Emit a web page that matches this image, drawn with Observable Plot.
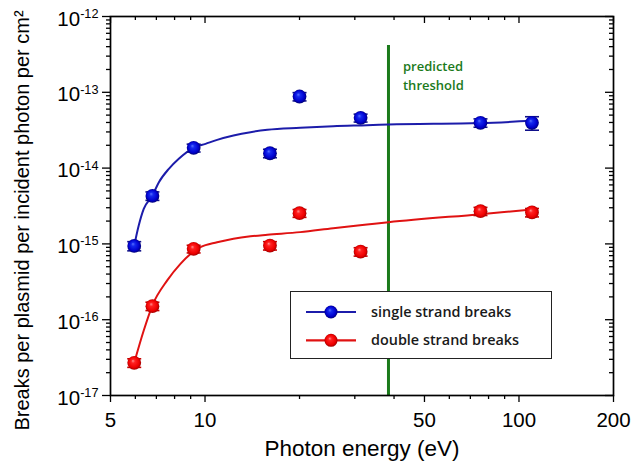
<!DOCTYPE html>
<html>
<head>
<meta charset="utf-8">
<script src="https://cdn.jsdelivr.net/npm/d3@7"></script>
<script src="https://cdn.jsdelivr.net/npm/@observablehq/plot@0.6"></script>
<style>
  html, body { margin: 0; padding: 0; background: #ffffff; }
  #chart { width: 631px; height: 470px; }
</style>
</head>
<body>
<div id="chart"></div>
<script>
// ---- Data ----
const energy = [5.95, 6.8, 9.2, 16.1, 20.0, 31.3, 75.4, 110];
const ssb    = [9.4e-16, 4.3e-15, 1.85e-14, 1.57e-14, 8.8e-14, 4.6e-14, 3.96e-14, 3.96e-14];
const ssbErr = [1.3e-16, 5.5e-16, 2.2e-15, 2.0e-15, 1.1e-14, 5.5e-15, 5.0e-15, 8.0e-15];
const dsb    = [2.7e-17, 1.51e-16, 8.6e-16, 9.5e-16, 2.54e-15, 7.9e-16, 2.7e-15, 2.6e-15];
const dsbErr = [3.5e-18, 1.9e-17, 1.0e-16, 1.2e-16, 3.0e-16, 1.0e-16, 3.3e-16, 3.3e-16];

const ssbFitEnergy = [5.95, 6.15, 6.38, 6.79, 7.13, 7.67, 8.25, 9.17, 10.04, 10.93, 12.32, 13.96, 15.8, 20.1, 25.6, 32.8, 38.4, 75.4, 110];
const ssbFit       = [9.5e-16, 1.75e-15, 2.9e-15, 4.3e-15, 6.52e-15, 9.79e-15, 1.33e-14, 1.84e-14, 2.09e-14, 2.36e-14, 2.69e-14, 2.98e-14, 3.2e-14, 3.4e-14, 3.57e-14, 3.68e-14, 3.76e-14, 3.93e-14, 4.2e-14];
const dsbFitEnergy = [5.95, 6.38, 6.8, 7.58, 8.35, 9.15, 9.67, 10.93, 12.32, 13.96, 15.8, 20.1, 25.6, 32.8, 38.4, 75.4, 110];
const dsbFit       = [2.7e-17, 7.2e-17, 1.55e-16, 3.3e-16, 5.46e-16, 7.8e-16, 9.04e-16, 1.05e-15, 1.17e-15, 1.26e-15, 1.32e-15, 1.43e-15, 1.61e-15, 1.80e-15, 1.93e-15, 2.47e-15, 2.84e-15];

const thresholdEnergy = 38.4;
const thresholdTop = 4.14e-13;
const thresholdLabel = "predicted\nthreshold";

const xTicks = [5, 10, 50, 100, 200];
const xTickLabels = ["5", "10", "50", "100", "200"];
const xMinorTicks = [6, 7, 8, 9, 20, 30, 40, 60, 70, 80, 90];
const yTicks = [1e-17, 1e-16, 1e-15, 1e-14, 1e-13, 1e-12];
const yTickExponents = ["-17", "-16", "-15", "-14", "-13", "-12"];
const yMinorMultipliers = [2, 3, 4, 5, 6, 7, 8, 9];

const xLabel = "Photon energy (eV)";
const yLabel = "Breaks per plasmid per incident photon per cm²";
const seriesNames = ["single strand breaks", "double strand breaks"];
const lineColors = ["#1c1caa", "#e01212"];
const capColors = ["#10108a", "#c80000"];
const sphereIds = ["sphereBlue", "sphereRed"];
const thresholdColor = "#1b7a1b";

// ---- Layout ----
const W = 631, H = 470;
const mL = 110, mR = 18, mT = 16, mB = 75;
const frameW = W - mL - mR, frameH = H - mT - mB;

const yMinorTicks = yTicks.slice(0, -1).flatMap(d => yMinorMultipliers.map(k => k * d));

const points = (ys, errs) => energy.map((e, i) => ({x: e, y: ys[i], lo: ys[i] - errs[i], hi: ys[i] + errs[i]}));
const ssbPts = points(ssb, ssbErr);
const dsbPts = points(dsb, dsbErr);
const ssbFitPts = ssbFitEnergy.map((e, i) => ({x: e, y: ssbFit[i]}));
const dsbFitPts = dsbFitEnergy.map((e, i) => ({x: e, y: dsbFit[i]}));
const yTickRows = yTicks.map((v, i) => ({v, e: yTickExponents[i]}));

const capSymbol = {
  draw(context, size) {
    const w = Math.sqrt(size / Math.PI);
    context.moveTo(-w, 0);
    context.lineTo(w, 0);
  }
};

function gradientDefs() {
  return () => {
    const defs = d3.create("svg:defs");
    const specs = [
      {id: sphereIds[0], stops: [["0%", "#5a70ff"], ["25%", "#1428ee"], ["70%", "#0000cc"], ["100%", "#00005a"]]},
      {id: sphereIds[1], stops: [["0%", "#ff9090"], ["25%", "#ff2020"], ["70%", "#ee0000"], ["100%", "#880000"]]}
    ];
    for (const s of specs) {
      const g = defs.append("radialGradient").attr("id", s.id)
        .attr("cx", "50%").attr("cy", "50%").attr("r", "55%")
        .attr("fx", "40%").attr("fy", "35%");
      for (const [o, c] of s.stops) g.append("stop").attr("offset", o).attr("stop-color", c);
    }
    return defs.node();
  };
}

function legendMark() {
  return () => {
    const g = d3.create("svg:g");
    g.append("rect").attr("x", 290.5).attr("y", 291.5).attr("width", 261).attr("height", 67)
      .attr("fill", "#ffffff").attr("stroke", "#222").attr("stroke-width", 1);
    seriesNames.forEach((name, i) => {
      const cy = 312 + i * 28.3;
      g.append("line").attr("x1", 306).attr("x2", 356).attr("y1", cy).attr("y2", cy)
        .attr("stroke", lineColors[i]).attr("stroke-width", 2.2);
      g.append("circle").attr("cx", 331).attr("cy", cy).attr("r", 6.5)
        .attr("fill", `url(#${sphereIds[i]})`);
      g.append("text").attr("x", 371).attr("y", cy + 5).attr("text-anchor", "start")
        .attr("font-family", "'Open Sans', sans-serif").attr("font-weight", 600)
        .attr("font-size", 14.4).attr("fill", "#1a1a1a").text(name);
    });
    return g.node();
  };
}

const seriesMarks = (pts, fitPts, i) => [
  Plot.line(fitPts, {x: "x", y: "y", stroke: lineColors[i], strokeWidth: 2, curve: "monotone-x"}),
  Plot.ruleX(pts, {x: "x", y1: "lo", y2: "hi", stroke: capColors[i], strokeWidth: 1.4}),
  Plot.dot(pts, {x: "x", y: "lo", symbol: capSymbol, r: 7, fill: "none", stroke: capColors[i], strokeWidth: 1.6}),
  Plot.dot(pts, {x: "x", y: "hi", symbol: capSymbol, r: 7, fill: "none", stroke: capColors[i], strokeWidth: 1.6}),
  Plot.dot(pts, {x: "x", y: "y", r: 6.9, fill: `url(#${sphereIds[i]})`, stroke: "none"})
];

const chart = Plot.plot({
  width: W, height: H,
  marginLeft: mL, marginRight: mR, marginTop: mT, marginBottom: mB,
  style: {fontFamily: "'Liberation Sans', Arial, sans-serif", background: "#ffffff", color: "#000000", overflow: "visible"},
  x: {type: "log", domain: [5, 200]},
  y: {type: "log", domain: [1e-17, 1e-12]},
  marks: [
    gradientDefs(),
    // threshold line
    Plot.ruleX([{x: thresholdEnergy, y1: thresholdTop, y2: 1e-17}], {x: "x", y1: "y1", y2: "y2", stroke: thresholdColor, strokeWidth: 3}),
    Plot.text([{x: thresholdEnergy, t: thresholdLabel}], {
      x: "x", text: "t", frameAnchor: "top", textAnchor: "start", lineAnchor: "top",
      dx: 14.5, dy: 40.5, fontSize: 13, lineHeight: 1.5, fill: thresholdColor,
      fontFamily: "'Open Sans', sans-serif", fontWeight: 600
    }),
    ...seriesMarks(ssbPts, ssbFitPts, 0),
    ...seriesMarks(dsbPts, dsbFitPts, 1),
    legendMark(),
    // frame
    Plot.frame({stroke: "#000", strokeWidth: 1.7}),
    // bottom axis (outward ticks)
    Plot.axisX(xTicks, {anchor: "bottom", tickSize: 7, tickFormat: () => "", strokeWidth: 1.3, label: null}),
    Plot.axisX(xMinorTicks, {anchor: "bottom", tickSize: 4, tickFormat: () => "", strokeWidth: 1.3, label: null}),
    Plot.text(xTicks, {x: d => d, text: (d, i) => xTickLabels[i], frameAnchor: "bottom", lineAnchor: "top",
      dy: 17, fontSize: 20.5, fill: "#000"}),
    // top mirror ticks (inward)
    Plot.ruleX(xTicks, {x: d => d, insetBottom: frameH - 7, stroke: "#000", strokeWidth: 1.3}),
    Plot.ruleX(xMinorTicks, {x: d => d, insetBottom: frameH - 4, stroke: "#000", strokeWidth: 1.3}),
    // left axis (outward ticks)
    Plot.axisY(yTicks, {anchor: "left", tickSize: 8, tickFormat: () => "", strokeWidth: 1.3, label: null}),
    Plot.axisY(yMinorTicks, {anchor: "left", tickSize: 4, tickFormat: () => "", strokeWidth: 1.3, label: null}),
    Plot.text(yTickRows, {y: "v", text: d => `10^${d.e}`, frameAnchor: "left", textAnchor: "end",
      dx: -12, dy: 2.5, fontSize: 20.5, fill: "#000"}),
    // right mirror ticks (inward)
    Plot.ruleY(yTicks, {y: d => d, insetLeft: frameW - 8, stroke: "#000", strokeWidth: 1.3}),
    Plot.ruleY(yMinorTicks, {y: d => d, insetLeft: frameW - 4, stroke: "#000", strokeWidth: 1.3}),
    // axis titles
    Plot.text([xLabel], {text: d => d, frameAnchor: "bottom", textAnchor: "middle", dy: 60.5, fontSize: 22.5, fill: "#000"}),
    Plot.text([yLabel], {text: d => d, frameAnchor: "left", textAnchor: "middle", rotate: -90, dx: -88.4, dy: 14.5, fontSize: 20, fill: "#000"})
  ]
});

// Superscript exponents on the y tick labels
d3.select(chart).selectAll("text").each(function () {
  const t = this.textContent;
  if (/^10\^-?\d+$/.test(t)) {
    const [base, exp] = t.split("^");
    const sel = d3.select(this);
    sel.text(null);
    sel.append("tspan").text(base);
    sel.append("tspan").attr("dy", "-0.6em").attr("font-size", "0.62em").text(exp);
  }
});

document.getElementById("chart").appendChild(chart);
</script>
</body>
</html>
